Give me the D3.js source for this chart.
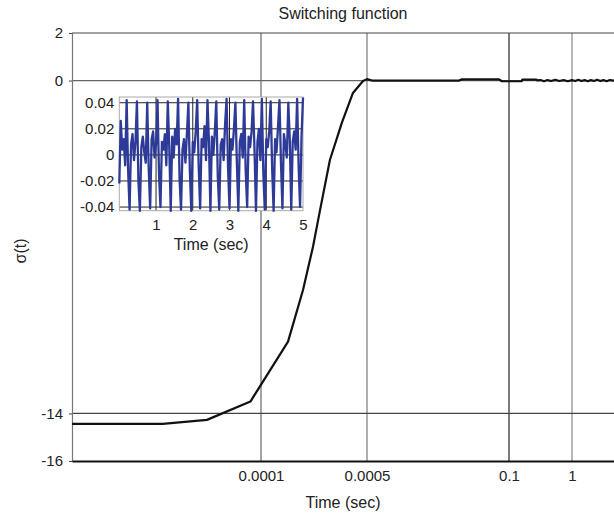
<!DOCTYPE html>
<html>
<head>
<meta charset="utf-8">
<script src="https://cdn.jsdelivr.net/npm/d3@7"></script>
<style>
  body { margin: 0; background: #fff; }
  svg { display: block; font-family: "Liberation Sans", Arial, sans-serif; }
</style>
</head>
<body>
<div id="chart-container"></div>
<script>
// Main curve: sigma(t) against time (broken time axis)
const mainTime = [0, 0.000048, 0.0000714, 0.0000944, 0.000202, 0.0002585, 0.000296, 0.000323,
    0.00036, 0.000405, 0.000447, 0.000485, 0.0005, 0.004, 0.065, 0.067, 0.093, 0.095,
    0.28, 0.29, 0.49, 0.5, 0.55, 0.6, 0.65, 0.7, 0.76, 0.82, 0.88, 0.94, 1.0, 1.3, 1.6,
    1.9, 2.2, 2.5, 2.8, 3.1, 3.4, 3.7, 4.0, 4.3, 4.6, 5.0];
const mainSigma = [-14.44, -14.44, -14.27, -13.5, -10.98, -8.81, -7.0, -5.44,
    -3.34, -1.78, -0.52, -0.02, 0.06, 0, 0, 0.05, 0.05, -0.03,
    -0.03, 0.04, 0.04, 0.01, 0.02, -0.03, 0.02, -0.02, 0.03, -0.02, 0.02, -0.03, 0.02, -0.02, 0.03,
    -0.02, 0.02, -0.03, 0.02, -0.02, 0.03, -0.02, 0.02, -0.03, 0.02, 0];

// Tick values and labels of the main chart
const mainXTicks = [0.0001, 0.0005, 0.1, 1];
const mainXTickLabels = ['0.0001', '0.0005', '0.1', '1'];
const mainYTicks = [2, 0, -14, -16];

// Inset: sigma(t) over 0..5 s, sampled every 0.04 s
const insetStep = 0.04;
const insetSigma = [
    -0.022, 0.026, 0.004, 0.012, -0.008, 0.042, -0.012, -0.042, 0.008, 0.016, -0.004, 0.010, 0.041,
    -0.020, -0.043, 0.006, 0.014, 0.002, -0.006, 0.040, -0.010, -0.041, 0.012, 0.018, -0.002, 0.008,
    0.042, -0.014, -0.040, 0.010, 0.004, 0.016, -0.008, 0.041, 0.006, -0.043, 0.014, -0.002, 0.020,
    0.008, 0.043, -0.018, -0.042, 0.004, 0.012, -0.006, 0.016, 0.040, -0.012, -0.043, 0.010,
    0.002, 0.018, 0.042, -0.008, -0.041, 0.012, 0.006, 0.022, -0.004, 0.042, 0.010, -0.043, 0.014,
    0.000, 0.018, 0.041, -0.016, -0.042, 0.008, 0.012, -0.004, 0.024, 0.043, -0.010, -0.041,
    0.012, 0.004, 0.020, 0.040, -0.006, -0.043, 0.010, 0.016, -0.002, 0.042, -0.012, -0.040, 0.014,
    0.006, 0.018, 0.041, 0.004, -0.043, 0.010, 0.020, -0.004, 0.043, -0.014, -0.042, 0.012,
    0.006, 0.018, 0.041, -0.010, -0.043, 0.012, 0.002, 0.022, 0.042, -0.006, -0.041, 0.016, 0.008,
    -0.002, 0.040, 0.012, -0.042, 0.010, 0.018, 0.004, 0.043, -0.008, -0.040, 0.014, 0.044
];
const insetXTicks = [1, 2, 3, 4, 5];
const insetYTicks = [0.04, 0.02, 0, -0.02, -0.04];

function createChart(elementId) {
    const width = 614;
    const height = 513;
    const margins = { top: 33, right: 0, bottom: 52, left: 72 };
    const innerWidth = width - margins.left - margins.right;
    const innerHeight = height - margins.top - margins.bottom;

    const svg = d3.select(elementId)
        .append('svg')
        .attr('width', width)
        .attr('height', height);

    const g = svg.append('g')
        .attr('transform', `translate(${margins.left},${margins.top})`);

    // Broken time axis: each segment has its own linear stretch
    const xBreaks = [0, 0.0001, 0.0005, 0.1, 1, 5];
    const xBreakPos = [0, 189, 295, 437, 500, innerWidth];
    const xScale = d3.scaleLinear().domain(xBreaks).range(xBreakPos);
    const yScale = d3.scaleLinear().domain([-16, 2]).range([innerHeight, 0]);

    // Grid lines
    const vColors = ['#666', '#777', '#222', '#888'];
    g.selectAll('.vgrid')
        .data(mainXTicks)
        .join('line')
        .attr('class', 'vgrid')
        .attr('x1', d => xScale(d)).attr('x2', d => xScale(d))
        .attr('y1', 0).attr('y2', innerHeight)
        .attr('stroke', (d, i) => vColors[i])
        .attr('stroke-width', 1.2);

    const hColors = { '0': '#666', '-14': '#444' };
    g.selectAll('.hgrid')
        .data([0, -14])
        .join('line')
        .attr('class', 'hgrid')
        .attr('x1', 0).attr('x2', innerWidth)
        .attr('y1', d => yScale(d)).attr('y2', d => yScale(d))
        .attr('stroke', d => hColors[String(d)])
        .attr('stroke-width', 1.2);

    // Top border
    g.append('line')
        .attr('x1', 0).attr('x2', innerWidth)
        .attr('y1', 0).attr('y2', 0)
        .attr('stroke', '#444').attr('stroke-width', 1.2);

    // Y axis
    const yAxis = g.append('g')
        .call(d3.axisLeft(yScale).tickValues(mainYTicks).tickSize(3).tickPadding(6)
            .tickFormat(d => String(d)));
    yAxis.select('.domain').attr('stroke', '#777').attr('stroke-width', 1.2);
    yAxis.selectAll('.tick line').attr('stroke', '#444');
    yAxis.selectAll('text').style('font-size', '15px').attr('fill', '#222');

    // X axis
    const xAxis = g.append('g')
        .attr('transform', `translate(0,${innerHeight})`)
        .call(d3.axisBottom(xScale).tickValues(mainXTicks).tickSize(0).tickPadding(9)
            .tickFormat((d, i) => mainXTickLabels[i]));
    xAxis.select('.domain').attr('stroke', '#111').attr('stroke-width', 2);
    xAxis.selectAll('text').style('font-size', '15px').attr('fill', '#222');

    // Main curve
    const line = d3.line()
        .x((d, i) => xScale(mainTime[i]))
        .y(d => yScale(d));
    g.append('path')
        .datum(mainSigma)
        .attr('d', line)
        .attr('fill', 'none')
        .attr('stroke', '#111')
        .attr('stroke-width', 2.2)
        .attr('stroke-linejoin', 'round');

    // Titles
    svg.append('text')
        .attr('x', margins.left + innerWidth / 2)
        .attr('y', 19)
        .attr('text-anchor', 'middle')
        .style('font-size', '16px')
        .attr('fill', '#222')
        .text('Switching function');

    svg.append('text')
        .attr('x', margins.left + innerWidth / 2)
        .attr('y', 508)
        .attr('text-anchor', 'middle')
        .style('font-size', '16px')
        .attr('fill', '#222')
        .text('Time (sec)');

    svg.append('text')
        .attr('transform', `translate(26,${margins.top + innerHeight / 2 + 4}) rotate(-90)`)
        .attr('text-anchor', 'middle')
        .style('font-size', '16px')
        .attr('fill', '#222')
        .text('σ(t)');

    // Inset chart
    const inset = { x: 119.3, y: 97, w: 183.7, h: 113.7 };
    const ig = svg.append('g')
        .attr('transform', `translate(${inset.x},${inset.y})`);

    const ixScale = d3.scaleLinear().domain([0, 5]).range([0, inset.w]);
    const iyScale = d3.scaleLinear().domain([-0.0428, 0.0444]).range([inset.h, 0]);

    ig.append('rect')
        .attr('width', inset.w).attr('height', inset.h)
        .attr('fill', '#fff');

    ig.selectAll('.ivgrid')
        .data(insetXTicks.slice(0, 4))
        .join('line')
        .attr('x1', d => ixScale(d)).attr('x2', d => ixScale(d))
        .attr('y1', 0).attr('y2', inset.h)
        .attr('stroke', '#222').attr('stroke-width', 1);

    ig.selectAll('.ihgrid')
        .data(insetYTicks)
        .join('line')
        .attr('x1', 0).attr('x2', inset.w)
        .attr('y1', d => iyScale(d)).attr('y2', d => iyScale(d))
        .attr('stroke', '#222').attr('stroke-width', 1);

    ig.append('rect')
        .attr('width', inset.w).attr('height', inset.h)
        .attr('fill', 'none')
        .attr('stroke', '#aaa').attr('stroke-width', 1);

    const iLine = d3.line()
        .x((d, i) => ixScale(i * insetStep))
        .y(d => iyScale(d));
    ig.append('path')
        .datum(insetSigma)
        .attr('d', iLine)
        .attr('fill', 'none')
        .attr('stroke', '#2e3a97')
        .attr('stroke-width', 2.3)
        .attr('stroke-linejoin', 'round');

    const iyAxis = ig.append('g')
        .call(d3.axisLeft(iyScale).tickValues(insetYTicks).tickSize(0).tickPadding(5)
            .tickFormat(d => String(d)));
    iyAxis.select('.domain').remove();
    iyAxis.selectAll('text').style('font-size', '15px').attr('fill', '#222');

    const ixAxis = ig.append('g')
        .attr('transform', `translate(0,${inset.h})`)
        .call(d3.axisBottom(ixScale).tickValues(insetXTicks).tickSize(0).tickPadding(9)
            .tickFormat(d => String(d)));
    ixAxis.select('.domain').remove();
    ixAxis.selectAll('text').style('font-size', '15px').attr('fill', '#222');

    ig.append('text')
        .attr('x', inset.w / 2)
        .attr('y', inset.h + 39)
        .attr('text-anchor', 'middle')
        .style('font-size', '16px')
        .attr('fill', '#222')
        .text('Time (sec)');
}

createChart('#chart-container');
</script>
</body>
</html>
